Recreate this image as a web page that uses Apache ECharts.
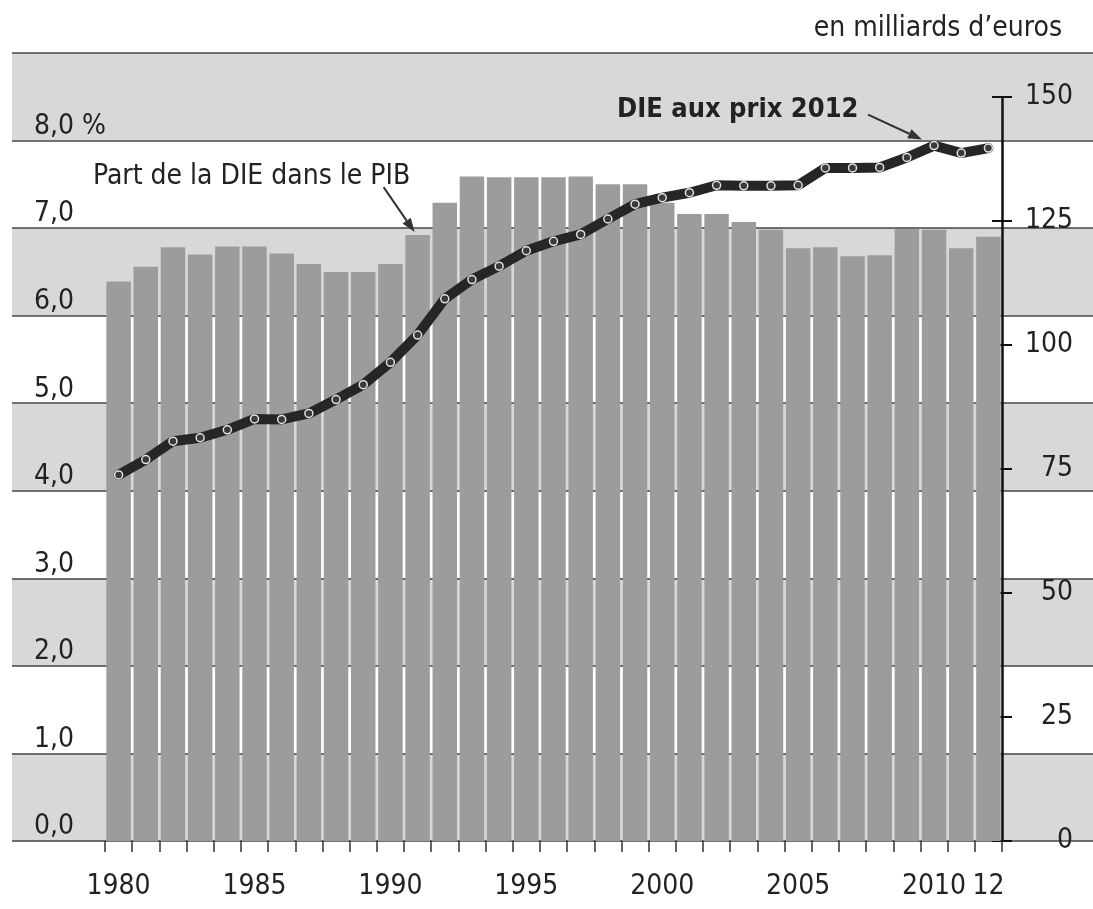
<!DOCTYPE html>
<html>
<head>
<meta charset="utf-8">
<title>DIE 1980-2012</title>
<script src="https://cdn.jsdelivr.net/npm/echarts@6/dist/echarts.min.js"></script>
<style>
  html, body { margin: 0; padding: 0; background: #fff; }
  #chart { width: 1093px; height: 909px; }
</style>
</head>
<body>
<div id="chart"></div>
<script>
// années
var years = ["1980", "1981", "1982", "1983", "1984", "1985", "1986", "1987", "1988", "1989",
  "1990", "1991", "1992", "1993", "1994", "1995", "1996", "1997", "1998", "1999",
  "2000", "2001", "2002", "2003", "2004", "2005", "2006", "2007", "2008", "2009",
  "2010", "2011", "2012"];
// part de la DIE dans le PIB (%) - barres, axe de gauche
var partPib = [6.39, 6.56, 6.78, 6.70, 6.79, 6.79, 6.71, 6.59, 6.50, 6.50,
  6.59, 6.92, 7.29, 7.59, 7.58, 7.58, 7.58, 7.59, 7.50, 7.50,
  7.29, 7.16, 7.16, 7.07, 6.98, 6.77, 6.78, 6.68, 6.69, 6.99,
  6.98, 6.77, 6.90];
// DIE aux prix 2012 (milliards d'euros) - courbe, axe de droite
var dieValeur = [73.8, 76.9, 80.6, 81.3, 82.9, 85.1, 85.0, 86.2, 89.0, 92.0,
  96.5, 102.0, 109.3, 113.2, 115.9, 119.0, 120.9, 122.3, 125.4, 128.4,
  129.7, 130.7, 132.2, 132.1, 132.1, 132.2, 135.7, 135.7, 135.8, 137.8,
  140.2, 138.7, 139.7];
// années affichées sous l'axe
var yearLabels = { "1980": "1980", "1985": "1985", "1990": "1990", "1995": "1995",
  "2000": "2000", "2005": "2005", "2010": "2010", "2012": "12" };

var font = "'Liberation Sans Narrow', 'DejaVu Sans Condensed', 'Arial Narrow', sans-serif";
var ink = "#222";
var fs = 28;

var chart = echarts.init(document.getElementById("chart"));

chart.setOption({
  animation: false,
  backgroundColor: "#fff",
  grid: [
    { left: 12, right: 0, top: 53, bottom: 68 },   // bandes grises
    { left: 105, right: 91, top: 53, bottom: 68 },  // barres
    { left: 105, right: 91, top: 97, bottom: 68 }   // courbe + axe de droite
  ],
  xAxis: [
    { gridIndex: 0, type: "value", min: 0, max: 1, show: false },
    {
      gridIndex: 1,
      type: "category",
      data: years,
      boundaryGap: true,
      axisLine: { show: false },
      axisTick: { show: true, interval: 0, length: 11, lineStyle: { color: "#333", width: 1.5 } },
      axisLabel: {
        interval: 0,
        margin: 32,
        fontSize: fs,
        fontFamily: font,
        color: ink,
        formatter: function (v) { return yearLabels[v] || ""; }
      },
      splitLine: { show: false }
    },
    { gridIndex: 2, type: "category", data: years, boundaryGap: true, show: false }
  ],
  yAxis: [
    {
      gridIndex: 0,
      type: "value",
      min: 0,
      max: 9,
      interval: 1,
      axisLine: { show: false },
      axisTick: { show: false },
      axisLabel: {
        inside: true,
        margin: 22,
        verticalAlign: "bottom",
        fontSize: fs,
        fontFamily: font,
        color: ink,
        formatter: function (v) {
          if (v === 9) return "";
          var s = v.toFixed(1).replace(".", ",");
          return v === 8 ? s + " %" : s;
        }
      },
      splitLine: { show: true, lineStyle: { color: "#444", width: 1.5 } },
      splitArea: { show: true, areaStyle: { color: ["#d8d8d8", "#ffffff"] } }
    },
    { gridIndex: 1, type: "value", min: 0, max: 9, interval: 1, show: false },
    {
      gridIndex: 2,
      type: "value",
      position: "right",
      min: 0,
      max: 150,
      interval: 25,
      axisLine: { show: true, lineStyle: { color: "#111", width: 2.5 } },
      axisTick: { show: true, length: 10, lineStyle: { color: "#111", width: 2 } },
      axisLabel: { margin: 71, align: "right", fontSize: fs, fontFamily: font, color: ink },
      splitLine: { show: false }
    },
    {
      // petits traits côté intérieur de l'axe de droite
      gridIndex: 2,
      type: "value",
      position: "right",
      min: 0,
      max: 150,
      interval: 25,
      axisLine: { show: false },
      axisTick: { show: true, inside: true, length: 10, lineStyle: { color: "#111", width: 2 } },
      axisLabel: { show: false },
      splitLine: { show: false }
    }
  ],
  series: [
    {
      name: "Part de la DIE dans le PIB",
      type: "bar",
      xAxisIndex: 1,
      yAxisIndex: 1,
      data: partPib,
      barCategoryGap: "10%",
      itemStyle: { color: "#9c9c9c" },
      z: 2
    },
    {
      name: "DIE aux prix 2012",
      type: "line",
      xAxisIndex: 2,
      yAxisIndex: 2,
      data: dieValeur,
      symbol: "circle",
      symbolSize: 8,
      lineStyle: { color: "#262626", width: 10, cap: "round", join: "round" },
      itemStyle: { color: "#3a3a3a", borderColor: "#e2e2e2", borderWidth: 1.5 },
      z: 5
    }
  ]
});

// flèche : trait + pointe
function arrow(x1, y1, x2, y2) {
  var a = Math.atan2(y2 - y1, x2 - x1);
  var len = 14, w = 5;
  var bx = x2 - len * Math.cos(a), by = y2 - len * Math.sin(a);
  return [
    { type: "line", shape: { x1: x1, y1: y1, x2: bx, y2: by }, style: { stroke: "#333", lineWidth: 2 }, z: 10 },
    {
      type: "polygon",
      shape: { points: [[x2, y2], [bx + w * Math.sin(a), by - w * Math.cos(a)], [bx - w * Math.sin(a), by + w * Math.cos(a)]] },
      style: { fill: "#333" },
      z: 10
    }
  ];
}

var tipPart = chart.convertToPixel({ seriesIndex: 0 }, [11, partPib[11]]);
var tipDie = chart.convertToPixel({ seriesIndex: 1 }, [30, dieValeur[30]]);
var partTip = [tipPart[0] - 3, tipPart[1] - 3];
var dieTip = [tipDie[0] - 12, tipDie[1] - 6];

var graphics = [
  {
    type: "text", right: 31, top: 15,
    style: { text: "en milliards d\u2019euros", font: fs + "px " + font, fill: ink }, z: 10
  },
  {
    type: "text", left: 93, top: 163,
    style: { text: "Part de la DIE dans le PIB", font: fs + "px " + font, fill: ink }, z: 10
  },
  {
    type: "text", left: 617, top: 96,
    style: { text: "DIE aux prix 2012", font: "bold 27px " + font, fill: ink }, z: 10
  }
];
graphics = graphics.concat(arrow(partTip[0] - 31, partTip[1] - 45, partTip[0], partTip[1]));
graphics = graphics.concat(arrow(dieTip[0] - 54, dieTip[1] - 25, dieTip[0], dieTip[1]));

chart.setOption({ graphic: graphics });
</script>
</body>
</html>
